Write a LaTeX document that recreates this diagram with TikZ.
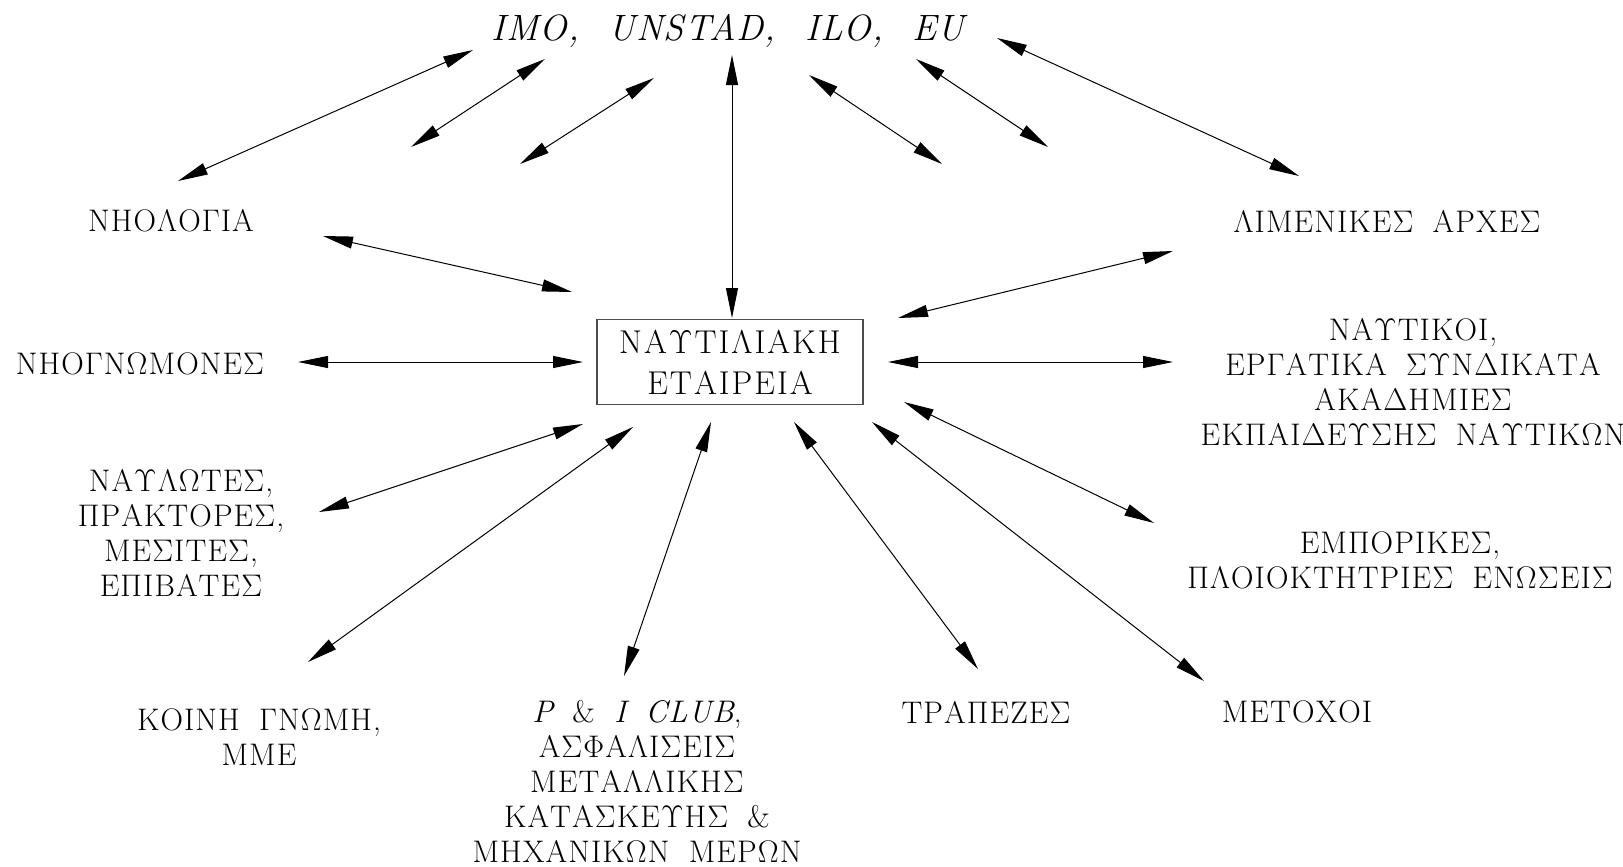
\documentclass[tikz,border=0pt]{standalone}
\usepackage{fontspec}
\setmainfont{Latin Modern Roman}
\newfontfamily\lblfont[LetterSpace=3.5]{Latin Modern Roman}
\newfontfamily\boxfont[LetterSpace=6]{Latin Modern Roman}
\newfontfamily\orgfont[LetterSpace=3]{Latin Modern Roman}
\usetikzlibrary{arrows.meta}
\newcommand{\wsp}{\hspace{0.62em}}
\begin{document}
\begin{tikzpicture}[x=0.5pt,y=-0.5pt,
  lbl/.style={align=center,inner sep=0pt,font=\lblfont\fontsize{15.6}{17.5}\selectfont},
  link/.style={line width=0.5pt,{Triangle[length=15pt,width=6pt]}-{Triangle[length=15pt,width=6pt]}},
  corebox/.style={draw=black!70,line width=0.7pt,minimum width=133pt,minimum height=42.5pt,
    align=center,inner sep=0pt,font=\boxfont\fontsize{16.5}{20.5}\selectfont}]
\useasboundingbox (0,0) rectangle (1623,867);

% organisations
\node[inner sep=0pt,font=\orgfont\itshape\fontsize{18.3}{21}\selectfont] (intl) at (728,31)
  {IMO,\hspace{0.8em}UNSTAD,\hspace{0.8em}ILO,\hspace{0.8em}EU};
\node[corebox] (co) at (730,362) {ΝΑΥΤΙΛΙΑΚΗ\\ΕΤΑΙΡΕΙΑ};

\node[lbl] (reg) at (171,221) {ΝΗΟΛΟΓΙΑ};
\node[lbl] (cls) at (140,364) {ΝΗΟΓΝΩΜΟΝΕΣ};
\node[lbl] (chr) at (181,533) {ΝΑΥΛΩΤΕΣ,\\ΠΡΑΚΤΟΡΕΣ,\\ΜΕΣΙΤΕΣ,\\ΕΠΙΒΑΤΕΣ};
\node[lbl] (pub) at (259,737) {ΚΟΙΝΗ\wsp ΓΝΩΜΗ,\\ΜΜΕ};
\node[lbl] (ins) at (637,781) {{\itshape P}\wsp\&\wsp{\itshape I\wsp CLUB},\\ΑΣΦΑΛΙΣΕΙΣ\\ΜΕΤΑΛΛΙΚΗΣ\\ΚΑΤΑΣΚΕΥΗΣ\wsp \&\\ΜΗΧΑΝΙΚΩΝ\wsp ΜΕΡΩΝ};
\node[lbl] (bnk) at (986,712) {ΤΡΑΠΕΖΕΣ};
\node[lbl] (shr) at (1297,712) {ΜΕΤΟΧΟΙ};
\node[lbl] (own) at (1400,560) {ΕΜΠΟΡΙΚΕΣ,\\ΠΛΟΙΟΚΤΗΤΡΙΕΣ\wsp ΕΝΩΣΕΙΣ};
\node[lbl] (crw) at (1413,382) {ΝΑΥΤΙΚΟΙ,\\ΕΡΓΑΤΙΚΑ\wsp ΣΥΝΔΙΚΑΤΑ\\ΑΚΑΔΗΜΙΕΣ\\ΕΚΠΑΙΔΕΥΣΗΣ\wsp ΝΑΥΤΙΚΩΝ};
\node[lbl] (prt) at (1387,221) {ΛΙΜΕΝΙΚΕΣ\wsp ΑΡΧΕΣ};

% arrow end points
\coordinate (a1) at (178,181);  \coordinate (b1) at (473,50);
\coordinate (a2) at (411,147);  \coordinate (b2) at (545,59);
\coordinate (a3) at (520,164);  \coordinate (b3) at (654,78);
\coordinate (a4) at (732,318);  \coordinate (b4) at (732,55);
\coordinate (a5) at (809,75);   \coordinate (b5) at (942,164);
\coordinate (a6) at (916,59);   \coordinate (b6) at (1048,147);
\coordinate (a7) at (997,38);   \coordinate (b7) at (1299,176);
\coordinate (a8) at (323,236);  \coordinate (b8) at (572,292);
\coordinate (a9) at (298,362);  \coordinate (b9) at (583,362);
\coordinate (a10) at (1173,251); \coordinate (b10) at (898,318);
\coordinate (a11) at (888,362);  \coordinate (b11) at (1173,362);
\coordinate (a12) at (319,512);  \coordinate (b12) at (583,424);
\coordinate (a13) at (308,662);  \coordinate (b13) at (633,427);
\coordinate (a14) at (624,676);  \coordinate (b14) at (711,422);
\coordinate (a15) at (794,422);  \coordinate (b15) at (978,669);
\coordinate (a16) at (872,422);  \coordinate (b16) at (1204,681);
\coordinate (a17) at (904,402);  \coordinate (b17) at (1154,523);

\foreach \i in {1,...,17}{\draw[link] (a\i) -- (b\i);}
\end{tikzpicture}
\end{document}
